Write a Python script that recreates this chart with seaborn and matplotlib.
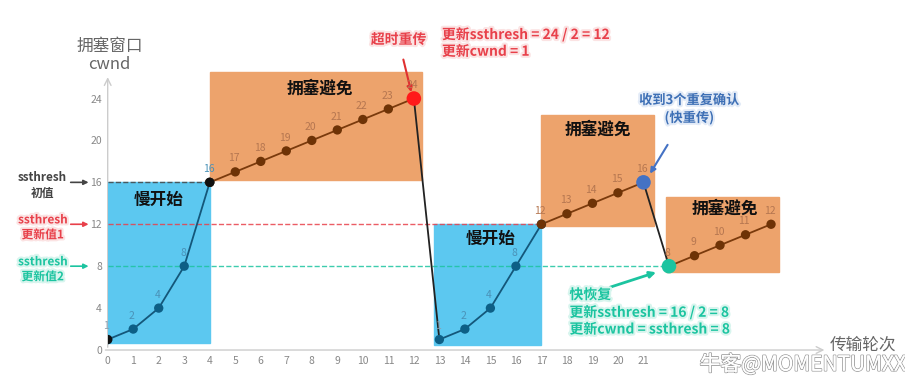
import matplotlib
matplotlib.use('Agg')
import matplotlib.pyplot as plt
import matplotlib.patheffects as pe
from matplotlib.patches import Rectangle
import seaborn as sns
import pandas as pd

# transmission rounds and congestion window values
rounds = list(range(27))
cwnd = [1, 2, 4, 8, 16,
        17, 18, 19, 20, 21, 22, 23, 24,
        1, 2, 4, 8, 12,
        13, 14, 15, 16,
        8, 9, 10, 11, 12]

# phase segments (start index, end index, kind)
segments = [(0, 4, 'ss'), (4, 12, 'ca'), (12, 13, 'drop'), (13, 17, 'ss'),
            (17, 21, 'ca'), (21, 22, 'drop'), (22, 26, 'ca')]

# shaded phase boxes: (x0, x1, y0, y1, kind, label)
boxes = [(0, 4, 0.7, 16, 'ss', '慢开始'),
         (4, 12.3, 16.2, 26.5, 'ca', '拥塞避免'),
         (12.8, 17, 0.5, 12, 'ss', '慢开始'),
         (17, 21.4, 11.8, 22.4, 'ca', '拥塞避免'),
         (21.9, 26.3, 7.4, 14.6, 'ca', '拥塞避免')]
box_label_pos = [(2.0, 14.3), (8.3, 24.9), (15.0, 10.6), (19.2, 21.0), (24.2, 13.5)]

ssthresh_levels = [16, 12, 8]
ssthresh_ends = [4, 17, 22]
ssthresh_labels = ['ssthresh\n初值', 'ssthresh\n更新值1', 'ssthresh\n更新值2']
ssthresh_colors = ['#444444', '#e8404a', '#1cc4a0']

xticks = list(range(22))
yticks = [0, 4, 8, 12, 16, 20, 24]

sns.set_theme(style='white')
plt.rcParams['font.family'] = ['Noto Sans CJK SC', 'DejaVu Sans']

df = pd.DataFrame({'round': rounds, 'cwnd': cwnd})

fig = plt.figure(figsize=(9.05, 3.84), dpi=100)
ax = fig.add_axes([0.119, 0.0885, 0.795, 0.745])
ax.set_xlim(0, 28.2)
ax.set_ylim(0, 27.3)

box_face = {'ss': '#5cc8f0', 'ca': '#eda36c'}
for (x0, x1, y0, y1, kind, label), (lx, ly) in zip(boxes, box_label_pos):
    ax.add_patch(Rectangle((x0, y0), x1 - x0, y1 - y0, color=box_face[kind], zorder=1))
    ax.text(lx, ly, label, fontsize=12, fontweight='bold', color='#111111',
            ha='center', va='center', zorder=5)

# ssthresh dashed lines
for lvl, end, c in zip(ssthresh_levels, ssthresh_ends, ssthresh_colors):
    ax.plot([0, end], [lvl, lvl], ls='--', color=c, lw=1, alpha=0.85, zorder=2)

line_col = {'ss': '#14577a', 'ca': '#7a3a0c', 'drop': '#222222'}
for i0, i1, kind in segments:
    seg = df.iloc[i0:i1 + 1]
    sns.lineplot(data=seg, x='round', y='cwnd', color=line_col[kind], lw=1.3,
                 sort=False, ax=ax, zorder=3)
    if kind != 'drop':
        sns.scatterplot(data=seg, x='round', y='cwnd',
                        color='#0d5f86' if kind == 'ss' else '#6e3306',
                        s=45, edgecolor='none', ax=ax, zorder=4)

# special points
special = [(0, '#111111', 45), (4, '#111111', 45), (12, '#ff1a1a', 110),
           (21, '#4472c4', 110), (22, '#1cc4a0', 110)]
for idx, c, s in special:
    ax.scatter(rounds[idx], cwnd[idx], s=s, color=c, zorder=6, edgecolor='none')

# value labels
for r, v in zip(rounds, cwnd):
    in_ca = (5 <= r <= 12) or (17 <= r <= 21) or (22 <= r <= 26)
    c = '#b57650' if in_ca else '#4a92b8'
    if r in (0, 13):
        c = '#8aa0b0'
    ax.text(r - 0.05, v + 0.8, str(v), fontsize=7.5, color=c, ha='center',
            va='bottom', zorder=5)

ax.set_xticks(xticks)
ax.set_yticks(yticks)
ax.tick_params(axis='both', labelsize=7.5, labelcolor='#888888', length=0, pad=4)
ax.set_xlabel('')
ax.set_ylabel('')
for sp in ax.spines.values():
    sp.set_visible(False)

# axis arrows
arrow_kw = dict(arrowstyle='->', color='#cccccc', lw=1)
ax.annotate('', xy=(0, 26.3), xytext=(0, 0), arrowprops=arrow_kw,
            annotation_clip=False, zorder=0)
ax.annotate('', xy=(28.2, 0), xytext=(-0.2, 0), arrowprops=arrow_kw,
            annotation_clip=False, zorder=0)

fig.text(0.121, 0.855, '拥塞窗口\ncwnd', fontsize=12, color='#666666',
         ha='center', va='center', linespacing=1.1)
ax.text(29.6, 0.5, '传输轮次', fontsize=12, color='#666666', ha='center',
        va='center', clip_on=False)

glow = [pe.withStroke(linewidth=3, foreground='#fbe3e3')]
glow_t = [pe.withStroke(linewidth=3, foreground='#d8f5ee')]
glow_b = [pe.withStroke(linewidth=3, foreground='#e3ebf7')]

# ssthresh notes on the left
for lvl, lab, c in zip(ssthresh_levels, ssthresh_labels, ssthresh_colors):
    t = ax.text(-2.55, lvl - 0.3, lab, fontsize=8.5, fontweight='bold', color=c,
                ha='center', va='center', linespacing=1.2, clip_on=False)
    if c != '#444444':
        t.set_path_effects(glow if c == '#e8404a' else glow_t)
    ax.annotate('', xy=(-0.75, lvl), xytext=(-1.45, lvl), annotation_clip=False,
                arrowprops=dict(arrowstyle='-|>', color=c, lw=1.2,
                                mutation_scale=7, shrinkA=0, shrinkB=0))

t = ax.annotate('超时重传', xy=(11.9, 24.6), xytext=(11.4, 29.6),
                fontsize=10, fontweight='bold', color='#e8404a', ha='center',
                va='center', annotation_clip=False,
                arrowprops=dict(arrowstyle='-|>', color='#e03030', lw=1.5,
                                mutation_scale=8, shrinkA=7, shrinkB=0))
t.set_path_effects(glow)
t = ax.text(13.1, 29.3, '更新ssthresh = 24 / 2 = 12\n更新cwnd = 1', fontsize=10,
            fontweight='bold', color='#e8404a', ha='left', va='center',
            linespacing=1.25, clip_on=False)
t.set_path_effects(glow)

t = ax.annotate('收到3个重复确认\n(快重传)', xy=(21.2, 16.6), xytext=(22.8, 23.0),
                fontsize=9.5, fontweight='bold', color='#3d6fb5', ha='center',
                va='center', linespacing=1.3, annotation_clip=False,
                arrowprops=dict(arrowstyle='-|>', color='#4472c4', lw=1.5,
                                mutation_scale=8, shrinkA=14, shrinkB=2))
t.set_path_effects(glow_b)

ax.annotate('', xy=(21.6, 7.5), xytext=(19.7, 6.0),
            arrowprops=dict(arrowstyle='-|>', color='#1cc4a0', lw=2,
                            mutation_scale=9, shrinkA=0, shrinkB=2))
t = ax.text(18.1, 3.6, '快恢复\n更新ssthresh = 16 / 2 = 8\n更新cwnd = ssthresh = 8',
            fontsize=10, fontweight='bold', color='#1cc4a0', ha='left',
            va='center', linespacing=1.25)
t.set_path_effects(glow_t)

# watermark
wm = ax.text(23.2, -1.4, '牛客@MOMENTUMXX', fontsize=15, color='white',
             ha='left', va='center', clip_on=False, zorder=7)
wm.set_path_effects([pe.withStroke(linewidth=1.2, foreground='#999999'), pe.Normal()])

fig.savefig('out.png', dpi=100)
